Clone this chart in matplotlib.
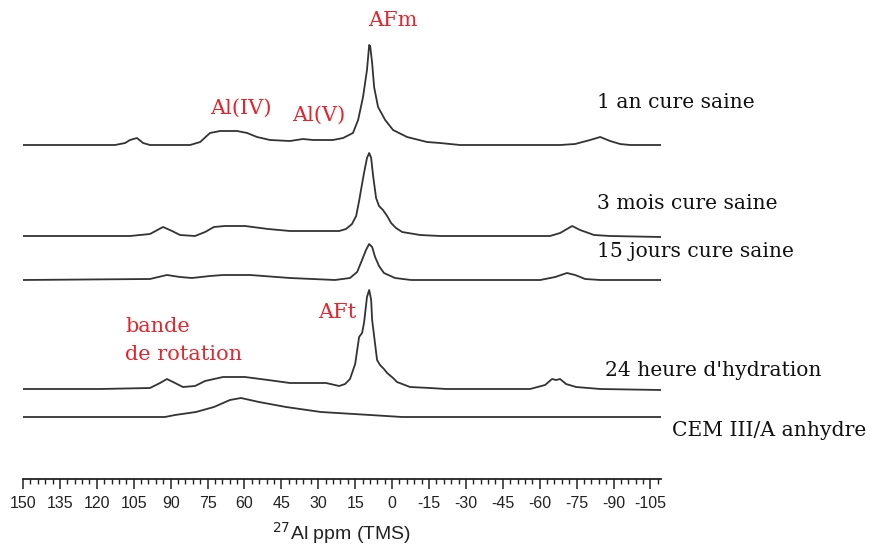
import matplotlib
matplotlib.use("Agg")
import matplotlib.pyplot as plt
from matplotlib.ticker import MultipleLocator

plt.rcParams["axes.unicode_minus"] = False

# ---- data (ppm, intensity in arbitrary units) ----
ppm_1an = [150, 112.6, 108.5, 106.5, 103.7, 101.2, 98.4, 82.1, 78.0, 74.0, 69.9, 63.0, 58.9, 54.9, 49.6,
           41.5, 36.2, 32.1, 24.0, 19.9, 15.9, 13.8, 11.8, 10.2, 9.3, 8.9, 8.1, 7.3, 5.7, 2.8, -0.4,
           -6.1, -14.2, -19.5, -27.6, -68.3, -74.4, -80.5, -84.6, -88.6, -92.7, -96.7, -109.3]
int_1an = [0, 0, 2, 5, 7, 2, 0, 0, 3, 12, 14, 14, 12, 8, 5,
           4, 6, 5, 5, 7, 12, 25, 48, 75, 100, 99, 82, 58, 38, 25, 15,
           8, 3, 2, 0, 0, 1, 5, 8, 4, 1, 0, 0]

ppm_3mois = [150, 135, 106.5, 98.4, 93.1, 89.4, 86.2, 80.1, 76.0, 72.4, 67.9, 59.8, 50.4, 41.5, 21.5,
             18.7, 16.3, 14.6, 13.4, 12.2, 11.4, 10.2, 9.3, 8.5, 7.7, 6.5, 5.3, 3.7, 2.0, 0.4, -1.6,
             -4.1, -11.4, -19.5, -64.2, -68.3, -73.2, -76.4, -82.1, -88.6, -109.3]
int_3mois = [0, 0, 0, 2, 9, 5, 1, 0, 4, 9, 10, 10, 7, 5, 5,
             7, 12, 20, 35, 52, 63, 78, 83, 78, 60, 38, 30, 26, 20, 13, 8,
             4, 1, 0, 0, 3, 10, 6, 1, 0, -1]

ppm_15j = [150, 98.4, 91.5, 86.2, 81.3, 74.0, 68.7, 57.7, 41.5, 23.2, 17.1, 14.2, 12.2, 10.6, 9.3,
           8.1, 6.9, 5.3, 3.3, -1.2, -7.7, -60.2, -66.3, -71.1, -74.4, -78.5, -84.6, -109.3]
int_15j = [0, 1, 5, 3, 2, 4, 5, 5, 2, 0, 2, 8, 20, 30, 36,
           33, 23, 14, 7, 2, 0, 0, 3, 7, 5, 1, 0, 0]

ppm_24h = [150, 118.7, 98.4, 94.3, 91.5, 88.2, 85.0, 80.1, 76.0, 68.7, 59.8, 50.4, 41.5, 26.8, 21.5,
           19.1, 17.1, 15.0, 13.4, 12.2, 11.4, 10.2, 9.3, 8.5, 8.1, 6.9, 6.1, 4.9, 3.3, 2.0, -0.4,
           -2.0, -7.3, -15.4, -22.0, -56.1, -62.2, -65.0, -66.7, -68.3, -70.7, -74.8, -84.6, -109.3]
int_24h = [0, 0, 1, 6, 10, 6, 2, 3, 8, 12, 12, 9, 6, 6, 3,
           5, 10, 25, 52, 56, 66, 92, 99, 89, 69, 45, 29, 24, 20, 16, 11,
           7, 2, 1, 0, 0, 4, 10, 9, 10, 5, 2, 0, -1]

ppm_cem = [150, 92.3, 88.2, 79.7, 72.4, 65.9, 61.4, 54.1, 43.1, 28.9, 8.9, -4.1, -109.3]
int_cem = [0, 0, 2, 5, 10, 17, 19, 15, 10, 5, 2, 0, 0]

series_labels = ["1 an cure saine", "3 mois cure saine", "15 jours cure saine",
                 "24 heure d'hydration", "CEM III/A anhydre"]

# ---- layout ----
W, H = 871, 551
fig = plt.figure(figsize=(W / 100, H / 100), dpi=100)
ax_left, ax_right, ax_bottom_px = 23, 661, 479
ax = fig.add_axes([ax_left / W, (H - ax_bottom_px) / H, (ax_right - ax_left) / W, ax_bottom_px / H])
ax.set_xlim(150, -109.3)
ax.set_ylim(0, ax_bottom_px)

offsets = [334, 243, 199, 90, 62]
series = [(ppm_1an, int_1an), (ppm_3mois, int_3mois), (ppm_15j, int_15j),
          (ppm_24h, int_24h), (ppm_cem, int_cem)]
line_color = "#333333"
for (p, v), off in zip(series, offsets):
    ax.plot(p, [off + y for y in v], color=line_color, lw=1.3, solid_joinstyle="round")

for s in ["top", "left", "right"]:
    ax.spines[s].set_visible(False)
ax.spines["bottom"].set_linewidth(1.3)
ax.spines["bottom"].set_color("#222222")
ax.set_yticks([])
ax.set_xticks(list(range(150, -106, -15)))
ax.xaxis.set_minor_locator(MultipleLocator(3))
ax.tick_params(axis="x", which="major", length=7, width=1.1, direction="out", pad=5,
               labelsize=11.5, colors="#222222")
ax.tick_params(axis="x", which="minor", length=3.5, width=1.0, direction="out", colors="#222222")
for lab in ax.get_xticklabels():
    lab.set_family("Liberation Sans")
ax.set_xlabel("$^{27}$Al ppm (TMS)", fontsize=14, family="Liberation Sans", labelpad=7,
              color="#222222")

# ---- text ----
def px(x, y):
    return (x / W, 1 - y / H)

serif = "DejaVu Serif"
label_pos = [(597, 103), (597, 204), (597, 252), (605, 370), (672, 430)]
for txt, (x, y) in zip(series_labels, label_pos):
    fig.text(*px(x, y), txt, fontsize=14.6, family=serif, color="#111111", va="center", ha="left")

red = "#e8232b"
rfs = 15
fig.text(*px(393, 20), "AFm", fontsize=rfs, family=serif, color=red, ha="center", va="center")
fig.text(*px(241, 108), "Al(IV)", fontsize=rfs, family=serif, color=red, ha="center", va="center")
fig.text(*px(319, 115), "Al(V)", fontsize=rfs, family=serif, color=red, ha="center", va="center")
fig.text(*px(337, 313), "AFt", fontsize=rfs, family=serif, color=red, ha="center", va="center")
fig.text(*px(125, 327), "bande", fontsize=rfs, family=serif, color=red, ha="left", va="center")
fig.text(*px(125, 355), "de rotation", fontsize=rfs, family=serif, color=red, ha="left", va="center")

fig.savefig("out.png", dpi=100)
